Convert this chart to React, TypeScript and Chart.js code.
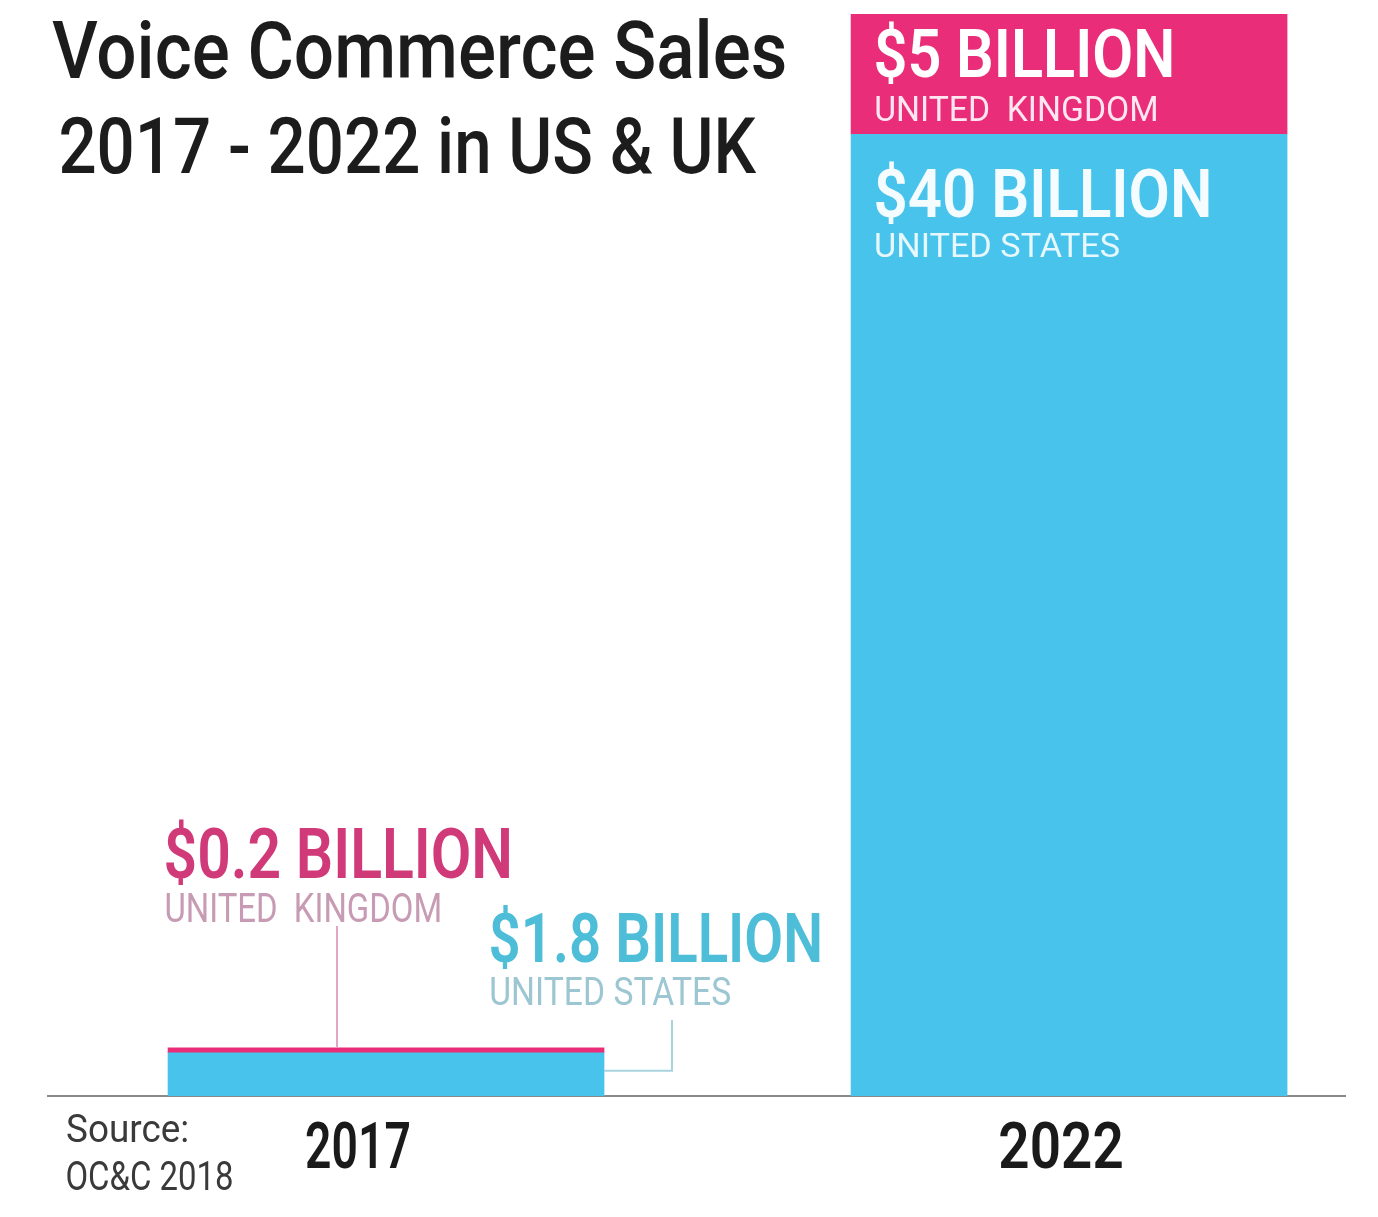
import React, { useEffect, useRef } from "react";
import { Chart, registerables } from "chart.js";

Chart.register(...registerables);

const categories = ["2017", "2022"];
const usValues = [1.8, 40];
const ukValues = [0.2, 5];
const usLabels = ["$1.8 BILLION", "$40 BILLION"];
const ukLabels = ["$0.2 BILLION", "$5 BILLION"];
const titleLines = ["Voice Commerce Sales", "2017 - 2022 in US & UK"];
const sourceLines = ["Source:", "OC&C 2018"];

const US_COLOR = "#48c4ec";
const UK_COLOR = "#ea2d78";
const FONT = "Roboto, 'Noto Sans', sans-serif";

function fitText(
  ctx: CanvasRenderingContext2D,
  text: string,
  left: number,
  baseline: number,
  cap: number,
  width: number,
  weight: number,
  color: string
) {
  const size = cap / 0.711;
  ctx.save();
  ctx.font = `${weight} ${size}px ${FONT}`;
  ctx.textBaseline = "alphabetic";
  ctx.textAlign = "left";
  const m = ctx.measureText(text);
  const l = m.actualBoundingBoxLeft || 0;
  const w = (m.actualBoundingBoxRight || m.width) + l;
  const sx = width / w;
  ctx.translate(left, baseline);
  ctx.scale(sx, 1);
  ctx.fillStyle = color;
  ctx.fillText(text, l, 0);
  ctx.restore();
}

const annotate = {
  id: "annotate",
  afterDraw(chart: any) {
    const ctx: CanvasRenderingContext2D = chart.ctx;
    const xs = chart.scales.x;
    const ys = chart.scales.y;
    const half = 218;
    const x0 = xs.getPixelForValue(0);
    const x1 = xs.getPixelForValue(1);

    // title
    fitText(ctx, titleLines[0], 52, 78, 56, 733, 500, "#1c1c1c");
    fitText(ctx, titleLines[1], 61, 173, 55, 696, 500, "#1c1c1c");

    // 2022 in-bar labels
    const l22 = x1 - half + 25;
    const top22 = ys.getPixelForValue(usValues[1] + ukValues[1]);
    const us22 = ys.getPixelForValue(usValues[1]);
    fitText(ctx, ukLabels[1], l22, top22 + 63, 48, 296, 600, "#ffffff");
    fitText(ctx, "UNITED  KINGDOM", l22, top22 + 107, 25, 280, 400, "#ffe6f0");
    fitText(ctx, usLabels[1], l22, us22 + 83, 48, 333, 600, "#f4fcff");
    fitText(ctx, "UNITED STATES", l22, us22 + 123, 24, 243, 400, "#e6f7fd");

    // 2017 callouts
    const top17 = ys.getPixelForValue(usValues[0] + ukValues[0]);
    const us17 = ys.getPixelForValue(usValues[0]);
    const left17 = x0 - half;
    const right17 = x0 + half;

    ctx.save();
    ctx.lineWidth = 2;
    ctx.strokeStyle = "#e2a6c4";
    ctx.beginPath();
    ctx.moveTo(337, 926);
    ctx.lineTo(337, top17);
    ctx.stroke();
    ctx.strokeStyle = "#a9d3de";
    ctx.beginPath();
    ctx.moveTo(right17, us17 + 18);
    ctx.lineTo(672, us17 + 18);
    ctx.lineTo(672, 1020);
    ctx.stroke();
    ctx.restore();

    fitText(ctx, ukLabels[0], left17 - 2, 878, 50, 343, 600, "#d03a79");
    fitText(ctx, "UNITED  KINGDOM", left17 - 2, 922, 29, 274, 400, "#c79bb3");
    fitText(ctx, usLabels[0], 491, 962, 49, 329, 600, "#4dbdd8");
    fitText(ctx, "UNITED STATES", 491, 1005, 28, 239, 400, "#9cc6d2");

    // year labels
    const shifts = [-28, -8];
    const widths = [103, 122];
    categories.forEach((c, i) => {
      const cx = xs.getPixelForValue(i) + shifts[i];
      fitText(ctx, c, cx - widths[i] / 2, 1168, 46, widths[i], 600, "#1a1a1a");
    });

    // source
    fitText(ctx, sourceLines[0], 67, 1142, 27, 120, 400, "#3a3a3a");
    fitText(ctx, sourceLines[1], 67, 1190, 29, 165, 400, "#3a3a3a");
  },
};

export default function App() {
  const ref = useRef<HTMLCanvasElement>(null);
  useEffect(() => {
    if (!ref.current) return;
    const chart = new Chart(ref.current, {
      type: "bar",
      data: {
        datasets: [
          {
            label: "United States",
            data: usValues.map((v, i) => ({ x: i, y: v })),
            backgroundColor: US_COLOR,
            barThickness: 436,
            borderWidth: 0,
          },
          {
            label: "United Kingdom",
            data: ukValues.map((v, i) => ({ x: i, y: v })),
            backgroundColor: UK_COLOR,
            barThickness: 436,
            borderWidth: 0,
          },
        ],
      },
      options: {
        animation: false,
        responsive: false,
        layout: { padding: { left: 48, right: 33, top: 14, bottom: 0 } },
        plugins: {
          legend: { display: false },
          tooltip: { enabled: false },
          title: { display: false },
        },
        scales: {
          x: {
            type: "linear",
            stacked: true,
            offset: false,
            min: -0.4949,
            max: 1.404,
            grid: { display: false },
            ticks: { display: false },
            border: { display: true, color: "#8a8a8a", width: 2 },
            afterFit: (s: any) => {
              s.height = 121;
            },
          },
          y: {
            stacked: true,
            min: 0,
            max: 45,
            display: false,
          },
        },
      },
      plugins: [annotate],
    });
    return () => chart.destroy();
  }, []);
  return (
    <div style={{ position: "absolute", left: 0, top: 0, width: 1378, height: 1217, background: "#ffffff" }}>
      <canvas ref={ref} width={1378} height={1217} style={{ width: 1378, height: 1217 }} />
    </div>
  );
}
